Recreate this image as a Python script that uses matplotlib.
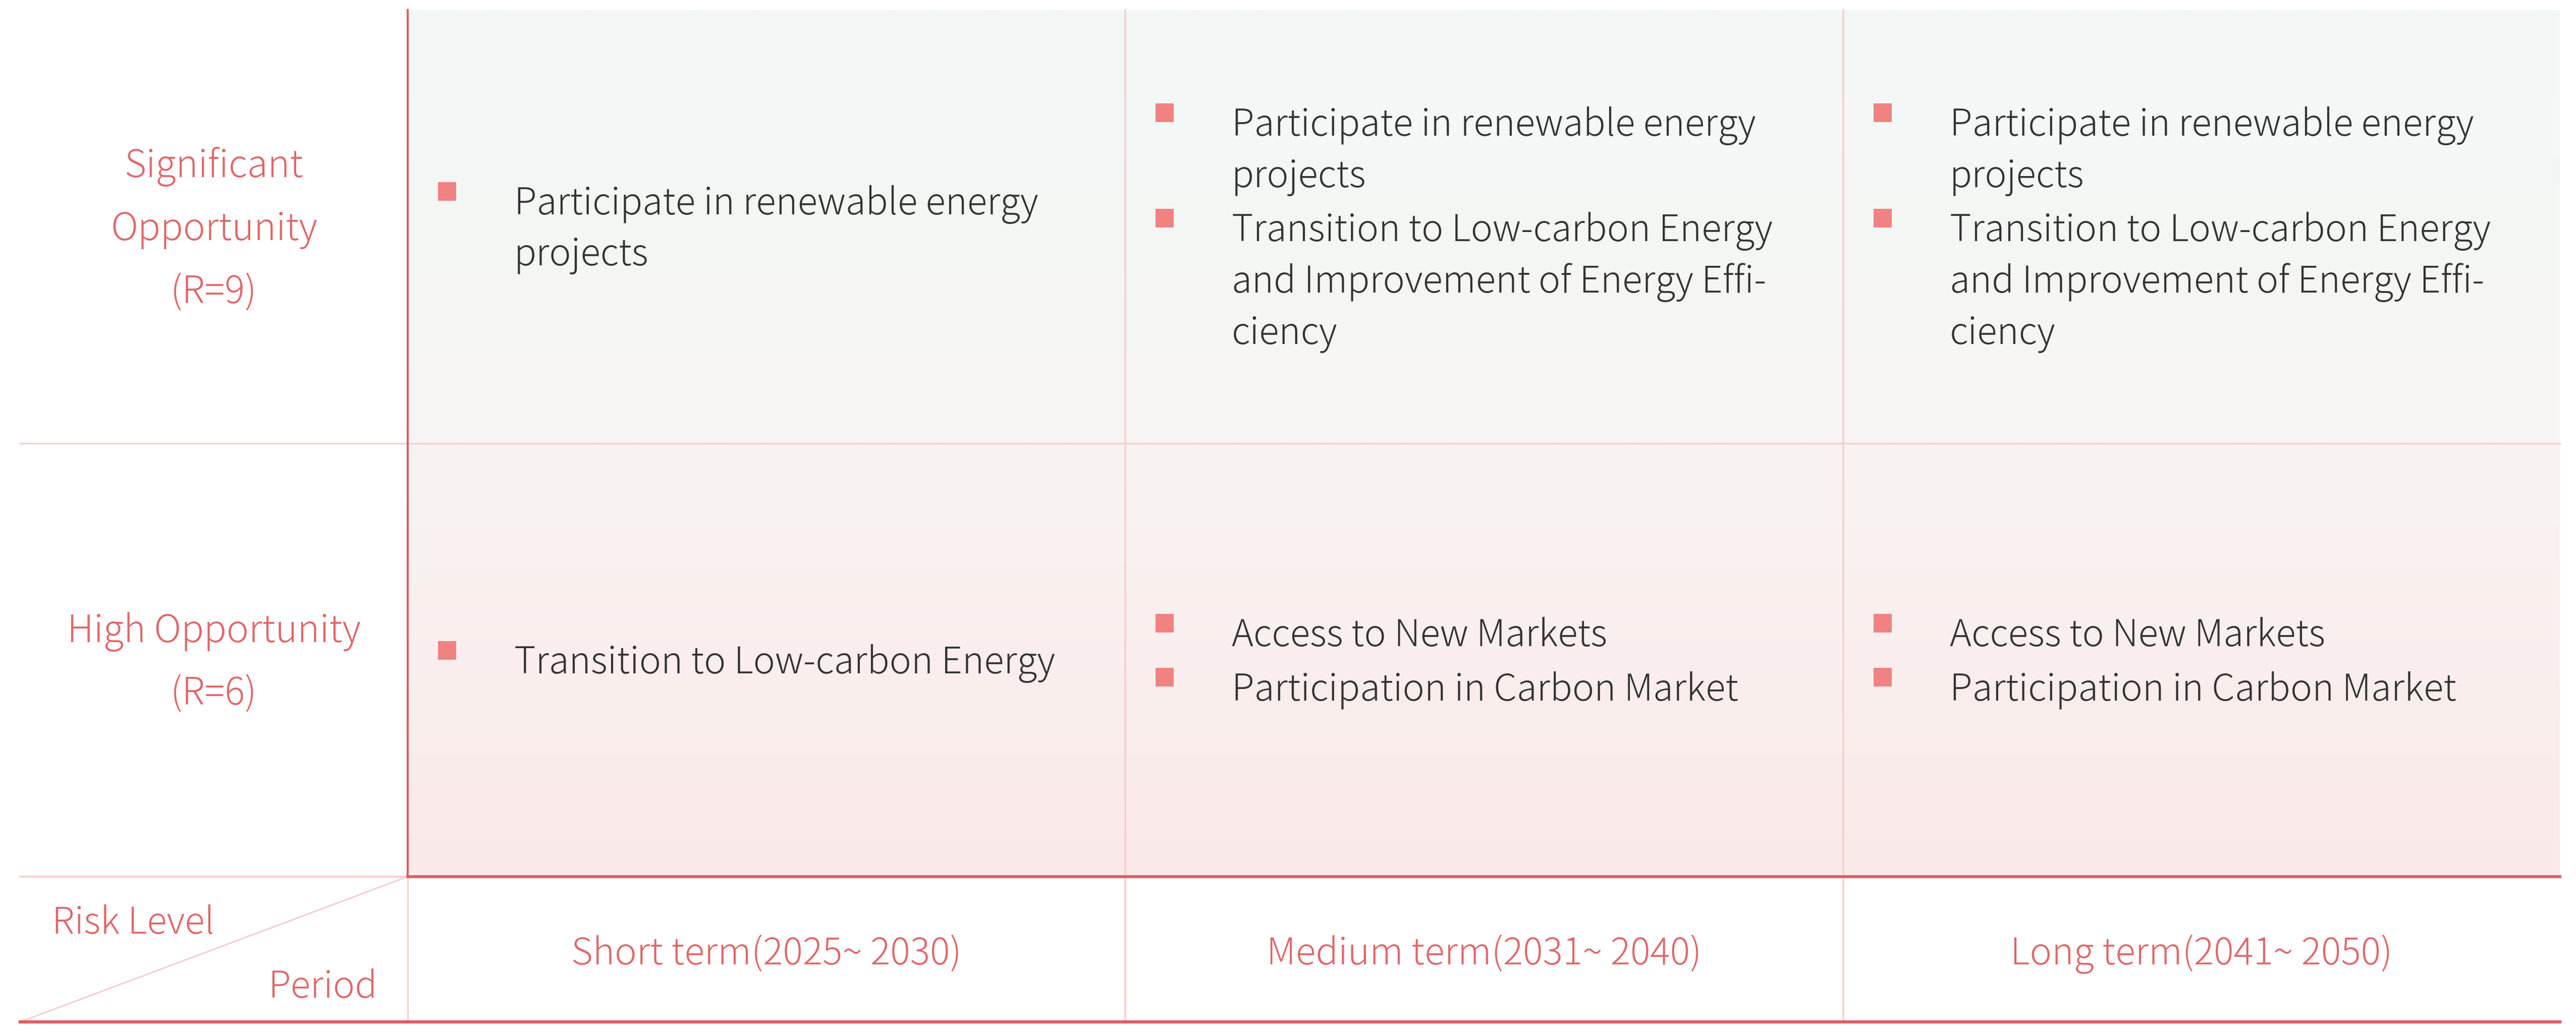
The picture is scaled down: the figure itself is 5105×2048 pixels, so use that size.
import numpy as np
import matplotlib.pyplot as plt
from matplotlib.patches import Rectangle

## chart content
row_labels = [["Significant", "Opportunity", "(R=9)"],
              ["High Opportunity", "(R=6)"]]
periods = ["Short term(2025~ 2030)", "Medium term(2031~ 2040)", "Long term(2041~ 2050)"]
corner_top = "Risk Level"
corner_bottom = "Period"

# cell items, each item is a list of wrapped lines
cells_sig = [
    [["Participate in renewable energy", "projects"]],
    [["Participate in renewable energy", "projects"],
     ["Transition to Low-carbon Energy", "and Improvement of Energy Effi-", "ciency"]],
    [["Participate in renewable energy", "projects"],
     ["Transition to Low-carbon Energy", "and Improvement of Energy Effi-", "ciency"]],
]
cells_high = [
    [["Transition to Low-carbon Energy"]],
    [["Access to New Markets"], ["Participation in Carbon Market"]],
    [["Access to New Markets"], ["Participation in Carbon Market"]],
]
cells = [cells_sig, cells_high]

## colours
RED = "#e0676a"
DARK_LINE = "#dc5f63"
LIGHT_LINE = "#f6cfcf"
BULLET = "#f08282"
BODY = "#333333"
FONT = ["Noto Sans CJK JP", "DejaVu Sans"]
WEIGHT = 300

## layout (pixels)
W, H = 5105, 2048
x_left, x_right = 40, 5073
col_x = [808, 2230, 3653, x_right]
row_y = [20, 879, 1738, 2026]
fs = 52.5
pitch = 102
item_gap = 5

fig = plt.figure(figsize=(W / 100, H / 100), dpi=100)
ax = fig.add_axes([0, 0, 1, 1])
ax.set_xlim(0, W)
ax.set_ylim(H, 0)
ax.axis("off")

## gradient backgrounds of the two content rows
def gradient(c_top, c_bot, y0, y1):
    t = np.linspace(0, 1, 200)[:, None, None]
    a = np.array(c_top)[None, None, :] / 255.0
    b = np.array(c_bot)[None, None, :] / 255.0
    img = a * (1 - t) + b * t
    ax.imshow(img, extent=(col_x[0], x_right, y1, y0), origin="upper",
              aspect="auto", interpolation="bilinear", zorder=0)

gradient((242, 248, 246), (247, 245, 243), row_y[0], row_y[1])
gradient((248, 244, 242), (251, 233, 233), row_y[1], row_y[2])

## grid lines
ax.plot([x_left, x_right], [row_y[1]] * 2, color=LIGHT_LINE, lw=2.4, zorder=2)
for cx in col_x[1:3]:
    ax.plot([cx, cx], [row_y[0], row_y[3]], color=LIGHT_LINE, lw=2.6, zorder=2)
ax.plot([col_x[0], col_x[0]], [row_y[2], row_y[3]], color=LIGHT_LINE, lw=2.2, zorder=2)
ax.plot([x_left, col_x[0]], [row_y[2]] * 2, color=LIGHT_LINE, lw=2.6, zorder=2)
ax.plot([x_left, col_x[0]], [row_y[3], row_y[2]], color=LIGHT_LINE, lw=2.2, zorder=2)
ax.plot([col_x[0], col_x[0]], [row_y[0], row_y[2]], color=DARK_LINE, lw=3.0, zorder=3)
ax.plot([col_x[0], x_right], [row_y[2]] * 2, color=DARK_LINE, lw=4.2, zorder=3)
ax.plot([x_left, x_right], [row_y[3]] * 2, color=DARK_LINE, lw=4.6, zorder=3)

def put(x, y, s, color, ha, size=fs):
    ax.text(x, y, s, color=color, fontsize=size, family=FONT,
            fontweight=WEIGHT, ha=ha, va="baseline")

## row labels
label_pitch = 125
for r, lines in enumerate(row_labels):
    yc = (row_y[r] + row_y[r + 1]) / 2
    first = yc - (len(lines) - 1) * label_pitch / 2
    xc = (x_left + col_x[0]) / 2
    for i, line in enumerate(lines):
        put(xc, first + i * label_pitch + 27, line, RED, "center", 53.5)

## corner labels
put(103, 1851, corner_top, RED, "left")
put(748, 1978, corner_bottom, RED, "right")

## period header
for c, p in enumerate(periods):
    put((col_x[c] + col_x[c + 1]) / 2, 1912, p, RED, "center", 53)

## cell bullets
for r in range(2):
    yc = (row_y[r] + row_y[r + 1]) / 2
    for c in range(3):
        items = cells[r][c]
        n_lines = sum(len(it) for it in items)
        span = 52 + (n_lines - 1) * pitch + (len(items) - 1) * item_gap
        base = yc - span / 2 + 52
        x0 = col_x[c]
        for it in items:
            ax.add_patch(Rectangle((x0 + 60, base - 64), 36, 37,
                                   color=BULLET, lw=0, zorder=4))
            for line in it:
                put(x0 + 211, base, line, BODY, "left")
                base += pitch
            base += item_gap

fig.savefig("out.png", dpi=100, facecolor="white")
